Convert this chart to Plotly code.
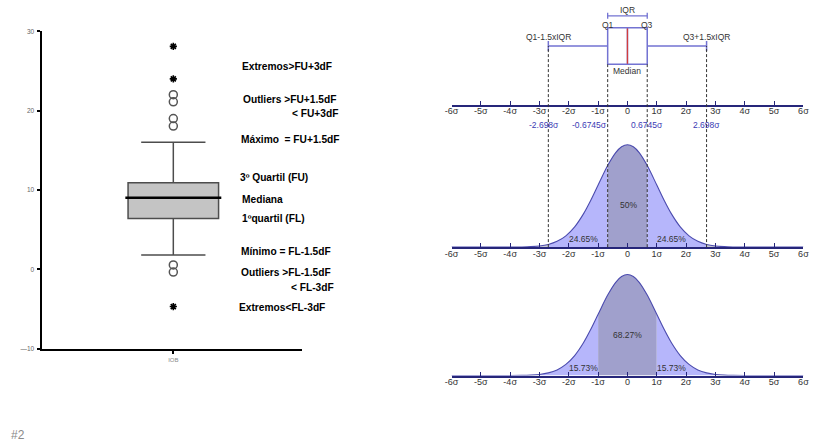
import plotly.graph_objects as go

W, H = 816, 444

# ---------------- data: left box plot ----------------
box_q1, box_median, box_q3 = 6.4, 9.0, 10.9
box_lowerfence, box_upperfence = 1.8, 16.0
outlier_values = [22.0, 21.1, 19.0, 18.05, 0.55, -0.35]
extreme_values = [28.1, 24.0, -4.7]
left_yticks = [-10, 0, 10, 20, 30]
left_yticktext = ["\u201410", "0", "10", "20", "30"]
left_category = ["IOB"]
left_labels = [
    "Extremos>FU+3dF", "Outliers >FU+1.5dF", "< FU+3dF", "Máximo  = FU+1.5dF",
    "3º Quartil (FU)", "Mediana", "1ºquartil (FL)", "Mínimo = FL-1.5dF",
    "Outliers >FL-1.5dF", "< FL-3dF", "Extremos<FL-3dF",
]

# ---------------- data: right diagram ----------------
sigma_ticks = list(range(-6, 7))
sigma_ticktext = ["-6σ", "-5σ", "-4σ", "-3σ", "-2σ", "-1σ", "0", "1σ", "2σ", "3σ", "4σ", "5σ", "6σ"]
norm_q1, norm_median, norm_q3 = -0.6745, 0.0, 0.6745
norm_lowerfence, norm_upperfence = -2.698, 2.698
fence_labels = ["-2.698σ", "-0.6745σ", "0.6745σ", "2.698σ"]
curve_x = [-6, -4, -3.6, -3.3, -3.0, -2.698, -2.4, -2.1, -1.8, -1.5, -1.25, -1.0, -0.6745, -0.4, -0.2, 0,
           0.2, 0.4, 0.6745, 1.0, 1.25, 1.5, 1.8, 2.1, 2.4, 2.698, 3.0, 3.3, 3.6, 4, 6]
curve_y = [0, 0.0001, 0.0006, 0.0017, 0.0044, 0.0105, 0.0224, 0.0440, 0.0790, 0.1295, 0.1826, 0.2420,
           0.3178, 0.3683, 0.3910, 0.3989,
           0.3910, 0.3683, 0.3178, 0.2420, 0.1826, 0.1295, 0.0790, 0.0440, 0.0224, 0.0105, 0.0044,
           0.0017, 0.0006, 0.0001, 0]
iqr_pct = ["24.65%", "50%", "24.65%"]
sd_pct = ["15.73%", "68.27%", "15.73%"]


def py(p):
    return 1 - p / H


def px(p):
    return p / W


fig = go.Figure()

# ---------- left box plot ----------
fig.add_trace(go.Box(
    x=[0], q1=[box_q1], median=[box_median], q3=[box_q3],
    lowerfence=[box_lowerfence], upperfence=[box_upperfence],
    width=1, whiskerwidth=0.71, fillcolor="#c4c4c4",
    line=dict(color="#4d4d4d", width=1.5), boxpoints=False,
    xaxis="x", yaxis="y", hoverinfo="skip"))
fig.add_trace(go.Scatter(
    x=[-0.53, 0.53], y=[box_median, box_median], mode="lines",
    line=dict(color="black", width=2.5), xaxis="x", yaxis="y", hoverinfo="skip"))
fig.add_trace(go.Scatter(
    x=[0] * len(outlier_values), y=outlier_values, mode="markers",
    marker=dict(symbol="circle-open", size=8, line=dict(color="#555", width=1.5), color="#555"),
    xaxis="x", yaxis="y", hoverinfo="skip"))
fig.add_trace(go.Scatter(
    x=[0] * len(extreme_values), y=extreme_values, mode="markers",
    marker=dict(symbol="asterisk-open", size=6, line=dict(color="black", width=1.6), color="black"),
    xaxis="x", yaxis="y", hoverinfo="skip"))

# ---------- right row 1: horizontal box ----------
box_color = "#7373d2"
fig.add_trace(go.Box(
    y=[0], q1=[norm_q1], median=[norm_median], q3=[norm_q3],
    lowerfence=[norm_lowerfence], upperfence=[norm_upperfence],
    orientation="h", width=0.87, whiskerwidth=0.27, fillcolor="white",
    line=dict(color=box_color, width=1.5), boxpoints=False,
    xaxis="x2", yaxis="y2", hoverinfo="skip"))
fig.add_trace(go.Scatter(
    x=[norm_median, norm_median], y=[-0.42, 0.42], mode="lines",
    line=dict(color="#d23c3c", width=1.3), xaxis="x2", yaxis="y2", hoverinfo="skip"))

# IQR bracket
Y2_RANGE = (-1.4, 1.0)
Y2_TOP_PX, Y2_BOT_PX = 0.0, 102.5


def y2_from_px(p):
    return Y2_RANGE[0] + (Y2_BOT_PX - p) / (Y2_BOT_PX - Y2_TOP_PX) * (Y2_RANGE[1] - Y2_RANGE[0])


def y2_to_paper(v):
    p = Y2_BOT_PX - (v - Y2_RANGE[0]) / (Y2_RANGE[1] - Y2_RANGE[0]) * (Y2_BOT_PX - Y2_TOP_PX)
    return py(p)


yb = y2_from_px(12)
cap = 0.07
fig.add_trace(go.Scatter(
    x=[norm_q1, norm_q1, None, norm_q1, norm_q3, None, norm_q3, norm_q3],
    y=[yb - cap, yb + cap, None, yb, yb, None, yb - cap, yb + cap],
    mode="lines", line=dict(color=box_color, width=1.3),
    xaxis="x2", yaxis="y2", hoverinfo="skip"))

# ---------- right rows 2 & 3: normal curves ----------
fill_dark = "#a0a0cc"
fill_light = "#b6b6fb"
fill_tail = "#c8c8d4"
outline = "#4b4bae"


def add_curve(xa, ya, inner, outer):
    segs = [
        (lambda v: v <= -outer, fill_tail),
        (lambda v: -outer <= v <= -inner, fill_light),
        (lambda v: -inner <= v <= inner, fill_dark),
        (lambda v: inner <= v <= outer, fill_light),
        (lambda v: v >= outer, fill_tail),
    ]
    for cond, col in segs:
        xs = [a for a in curve_x if cond(a)]
        ys = [b for a, b in zip(curve_x, curve_y) if cond(a)]
        fig.add_trace(go.Scatter(
            x=xs, y=ys, mode="lines", fill="tozeroy", fillcolor=col,
            line=dict(width=0, shape="spline", smoothing=0.9, color=col),
            xaxis=xa, yaxis=ya, hoverinfo="skip"))
    fig.add_trace(go.Scatter(
        x=curve_x, y=curve_y, mode="lines",
        line=dict(color=outline, width=1.1, shape="spline", smoothing=0.9),
        xaxis=xa, yaxis=ya, hoverinfo="skip"))


add_curve("x3", "y3", norm_q3, norm_upperfence)
add_curve("x4", "y4", 1.0, 3.0)

# ---------- axes ----------
RX = [px(451.7), px(809.3)]
axis_navy = "#26267a"
right_x = dict(domain=RX, range=[-6, 6], tickvals=sigma_ticks, ticktext=sigma_ticktext,
               ticks="inside", ticklen=4, tickwidth=1, tickcolor=axis_navy,
               showline=True, linecolor=axis_navy, linewidth=1.6,
               showgrid=False, zeroline=False, ticklabelstandoff=-3,
               tickfont=dict(family="Liberation Sans, Arial", size=9, color="#333"),
               fixedrange=True)

fig.update_layout(
    width=W, height=H, margin=dict(l=0, r=0, t=0, b=0),
    paper_bgcolor="white", plot_bgcolor="rgba(0,0,0,0)", showlegend=False,
    xaxis=dict(domain=[px(36), px(300)], range=[-1.446, 1.424], anchor="y",
               tickvals=[0], ticktext=left_category, ticks="outside", ticklen=4,
               tickwidth=2, tickcolor="black", showline=True, linecolor="black",
               linewidth=1.5, showgrid=False, zeroline=False,
               tickfont=dict(family="Liberation Sans, Arial", size=6, color="#888"),
               fixedrange=True),
    yaxis=dict(domain=[py(350.1), py(27.7)], range=[-10, 30], anchor="x",
               tickvals=left_yticks, ticktext=left_yticktext, ticks="outside",
               ticklen=3, tickwidth=2, tickcolor="black", showline=True,
               linecolor="black", linewidth=2, showgrid=False, zeroline=False,
               ticklabelstandoff=2,
               tickfont=dict(family="Liberation Sans, Arial", size=6.5, color="#666"),
               fixedrange=True),
    xaxis2=dict(anchor="y2", **right_x),
    yaxis2=dict(domain=[py(Y2_BOT_PX), py(Y2_TOP_PX)], range=list(Y2_RANGE), visible=False,
                anchor="x2", fixedrange=True),
    xaxis3=dict(anchor="y3", **right_x),
    yaxis3=dict(domain=[py(247), py(130)], range=[0, 0.4488], visible=False,
                anchor="x3", fixedrange=True),
    xaxis4=dict(anchor="y4", **right_x),
    yaxis4=dict(domain=[py(377.5), py(262)], range=[0, 0.449], visible=False,
                anchor="x4", fixedrange=True),
)

# ---------- dashed guide lines ----------
for xv, top_v in [(norm_lowerfence, 0.0), (norm_q1, -0.435), (norm_q3, -0.435), (norm_upperfence, 0.0)]:
    fig.add_shape(type="line", xref="x2", yref="paper", x0=xv, x1=xv,
                  y0=py(247), y1=y2_to_paper(top_v),
                  line=dict(color="#333", width=1, dash="3px,2px"), layer="above")

# ---------- annotations ----------
ann = []
left_pos = [(240.7, 64), (242, 96.7), (291.7, 111.7), (239.3, 137.3), (238.3, 176.7),
            (240.7, 198.3), (240.7, 218.3), (240, 251.7), (240, 273.3), (291, 288.3), (237.3, 308.3)]
for t, (x0, y0) in zip(left_labels, left_pos):
    ann.append(dict(text="<b>" + t + "</b>", x=px(x0 - 4), y=py(y0), xref="paper", yref="paper",
                    xanchor="left", yanchor="middle", showarrow=False,
                    font=dict(family="Liberation Sans, Arial", size=10.2, color="black")))

small = dict(family="Liberation Sans, Arial", size=8.5, color="#333")
blue = dict(family="Liberation Sans, Arial", size=8.5, color="#3a3ab4")


def a_right(text, xv, ypx, font, xanchor="center"):
    ann.append(dict(text=text, x=xv, y=py(ypx), xref="x2", yref="paper",
                    xanchor=xanchor, yanchor="middle", showarrow=False, font=font))


a_right("IQR", norm_median, 6.5, small)
a_right("Q1", norm_q1, 21, small)
a_right("Q3", norm_q3, 21, small)
a_right("Q1-1.5xIQR", norm_lowerfence, 34, small)
a_right("Q3+1.5xIQR", norm_upperfence, 34, small)
a_right("Median", norm_median, 68.5, small)
a_right(fence_labels[0], norm_lowerfence - 0.14, 123, blue)
a_right(fence_labels[1], norm_q1 + 0.05, 123, blue, "right")
a_right(fence_labels[2], norm_q3, 123, blue)
a_right(fence_labels[3], norm_upperfence, 123, blue)

a_right(iqr_pct[0], -1.5, 238.5, small)
a_right(iqr_pct[1], 0.02, 204, small)
a_right(iqr_pct[2], 1.5, 238.5, small)
a_right(sd_pct[0], -1.5, 370, small)
a_right(sd_pct[1], 0.0, 336, small)
a_right(sd_pct[2], 1.5, 370, small)

ann.append(dict(text="#2", x=px(2), y=py(438), xref="paper", yref="paper", xanchor="left",
                yanchor="middle", showarrow=False,
                font=dict(family="Liberation Sans, Arial", size=12, color="#8a8a8a")))

fig.update_layout(annotations=ann)

fig.write_html("out.html")
